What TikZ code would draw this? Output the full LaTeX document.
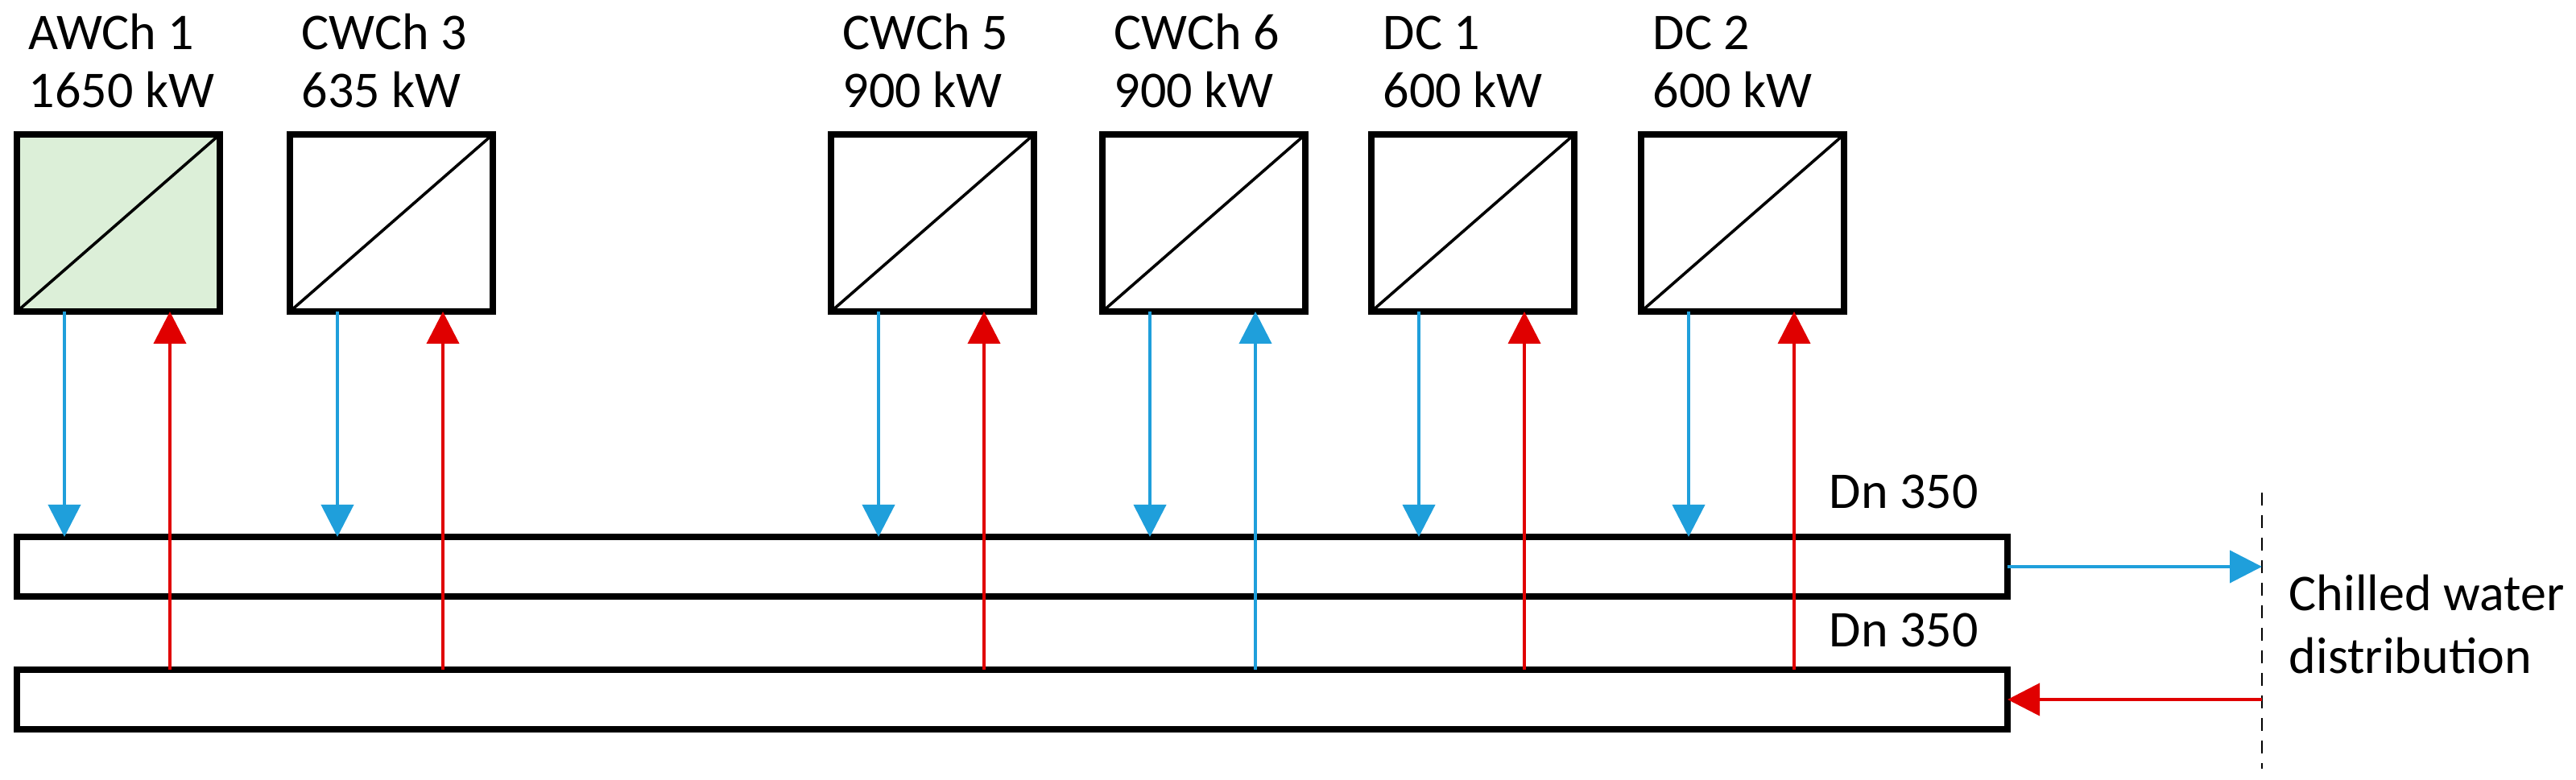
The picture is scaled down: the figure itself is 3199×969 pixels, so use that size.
\documentclass[tikz,border=0pt]{standalone}
\usepackage{fontspec}
\setmainfont{Carlito}
\usetikzlibrary{arrows.meta,calc}
\definecolor{cblue}{HTML}{1F9FDB}
\definecolor{cred}{HTML}{E00000}
\definecolor{cgreen}{HTML}{DCEFD8}
\begin{document}
\begin{tikzpicture}[x=0.25pt,y=-0.25pt,
  box/.style={draw,line width=1.8pt,minimum width=63pt,minimum height=55pt,inner sep=0,outer sep=0,anchor=north west},
  pipe/.style={draw,line width=1.8pt,minimum width=618pt,minimum height=18.5pt,inner sep=0,outer sep=0,anchor=north west},
  lbl/.style={font=\fontsize{16}{19.5}\selectfont,align=left,anchor=base west,inner sep=0},
  ba/.style={cblue,line width=1pt,-{Triangle[width=10pt,length=10pt]}},
  ra/.style={cred,line width=1pt,-{Triangle[width=10pt,length=10pt]}}]
\useasboundingbox (0,0) rectangle (3199,969);
\node[pipe] (p1) at (21,667) {};
\node[pipe] (p2) at (21,832) {};
\foreach \n/\x/\t/\p/\f/\uc in {a/21/AWCh 1/1650/cgreen/cred, b/360/CWCh 3/635/white/cred, c/1032/CWCh 5/900/white/cred, d/1369/CWCh 6/900/white/cblue, e/1703/DC 1/600/white/cred, f/2038/DC 2/600/white/cred}{
  \node[box,fill=\f] (\n) at (\x,167) {};
  \draw[line width=0.9pt] (\n.south west) -- (\n.north east);
  \node[lbl] (\n t1) at (\x+14,62) {\t};
  \node[lbl] (\n t2) at (\x+14,134) {\p\ kW};
  \coordinate (\n d) at ($(\n.south west)+(59,0)$);
  \coordinate (\n u) at ($(\n.south west)+(190,0)$);
  \draw[ba] (\n d) -- (\n d |- p1.north);
  \draw[ra,\uc] (\n u |- p2.north) -- (\n u);
}
\node[lbl] (dn1) at (2271,632) {Dn 350};
\node[lbl] (dn2) at (2271,804) {Dn 350};
\coordinate (dtop) at (2809,612);
\coordinate (dbot) at (2809,955);
\draw[line width=0.6pt,dash pattern=on 4pt off 3pt] (dtop) -- (dbot);
\draw[ba] (p1.east) -- (p1.east -| dtop);
\draw[ra] (p2.east -| dtop) -- (p2.east);
\node[lbl] (cw) at (2842,837) {Chilled water\\distribution};
\end{tikzpicture}
\end{document}
